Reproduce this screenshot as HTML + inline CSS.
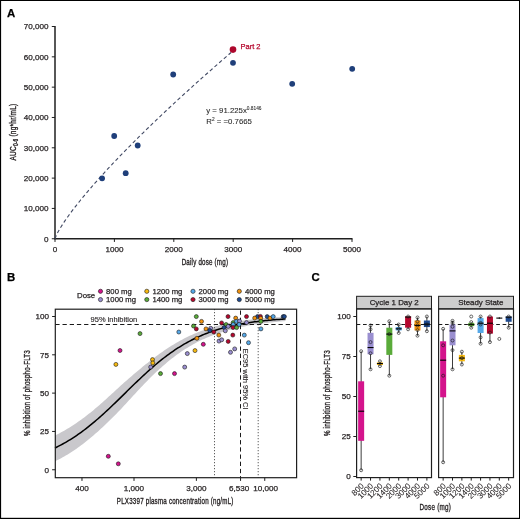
<!DOCTYPE html>
<html lang="en">
<head>
<meta charset="utf-8">
<title>Figure</title>
<style>
html,body{margin:0;padding:0;background:#fff;}
body{width:520px;height:519px;overflow:hidden;}
svg{display:block;font-family:"Liberation Sans", Arial, Helvetica, sans-serif;}
</style>
</head>
<body>
<svg width="520" height="519" viewBox="0 0 520 519">
<rect x="0" y="0" width="520" height="519" fill="#ffffff"/>
<text x="7.00" y="16.50" font-size="11.4" text-anchor="start" fill="#000" stroke="#000" stroke-width="0.25" font-weight="bold">A</text>
<text x="7.00" y="281.00" font-size="11.4" text-anchor="start" fill="#000" stroke="#000" stroke-width="0.25" font-weight="bold">B</text>
<text x="311.50" y="280.80" font-size="11.4" text-anchor="start" fill="#000" stroke="#000" stroke-width="0.25" font-weight="bold">C</text>
<line x1="55.00" y1="26.01" x2="55.00" y2="239.35" stroke="#1f1f1f" stroke-width="1.5"/>
<line x1="54.40" y1="238.75" x2="352.50" y2="238.75" stroke="#1f1f1f" stroke-width="1.5"/>
<line x1="51.80" y1="238.75" x2="55.00" y2="238.75" stroke="#1f1f1f" stroke-width="1"/>
<text x="48.40" y="241.55" font-size="8.1" text-anchor="end" fill="#231f20" stroke="#231f20" stroke-width="0.25">0</text>
<line x1="51.80" y1="208.43" x2="55.00" y2="208.43" stroke="#1f1f1f" stroke-width="1"/>
<text x="48.40" y="211.23" font-size="8.1" text-anchor="end" fill="#231f20" stroke="#231f20" stroke-width="0.25">10,000</text>
<line x1="51.80" y1="178.11" x2="55.00" y2="178.11" stroke="#1f1f1f" stroke-width="1"/>
<text x="48.40" y="180.91" font-size="8.1" text-anchor="end" fill="#231f20" stroke="#231f20" stroke-width="0.25">20,000</text>
<line x1="51.80" y1="147.79" x2="55.00" y2="147.79" stroke="#1f1f1f" stroke-width="1"/>
<text x="48.40" y="150.59" font-size="8.1" text-anchor="end" fill="#231f20" stroke="#231f20" stroke-width="0.25">30,000</text>
<line x1="51.80" y1="117.47" x2="55.00" y2="117.47" stroke="#1f1f1f" stroke-width="1"/>
<text x="48.40" y="120.27" font-size="8.1" text-anchor="end" fill="#231f20" stroke="#231f20" stroke-width="0.25">40,000</text>
<line x1="51.80" y1="87.15" x2="55.00" y2="87.15" stroke="#1f1f1f" stroke-width="1"/>
<text x="48.40" y="89.95" font-size="8.1" text-anchor="end" fill="#231f20" stroke="#231f20" stroke-width="0.25">50,000</text>
<line x1="51.80" y1="56.83" x2="55.00" y2="56.83" stroke="#1f1f1f" stroke-width="1"/>
<text x="48.40" y="59.63" font-size="8.1" text-anchor="end" fill="#231f20" stroke="#231f20" stroke-width="0.25">60,000</text>
<line x1="51.80" y1="26.51" x2="55.00" y2="26.51" stroke="#1f1f1f" stroke-width="1"/>
<text x="48.40" y="29.31" font-size="8.1" text-anchor="end" fill="#231f20" stroke="#231f20" stroke-width="0.25">70,000</text>
<line x1="55.00" y1="238.75" x2="55.00" y2="241.95" stroke="#1f1f1f" stroke-width="1"/>
<text x="55.00" y="251.65" font-size="8.1" text-anchor="middle" fill="#231f20" stroke="#231f20" stroke-width="0.25">0</text>
<line x1="114.40" y1="238.75" x2="114.40" y2="241.95" stroke="#1f1f1f" stroke-width="1"/>
<text x="114.40" y="251.65" font-size="8.1" text-anchor="middle" fill="#231f20" stroke="#231f20" stroke-width="0.25">1000</text>
<line x1="173.80" y1="238.75" x2="173.80" y2="241.95" stroke="#1f1f1f" stroke-width="1"/>
<text x="173.80" y="251.65" font-size="8.1" text-anchor="middle" fill="#231f20" stroke="#231f20" stroke-width="0.25">2000</text>
<line x1="233.20" y1="238.75" x2="233.20" y2="241.95" stroke="#1f1f1f" stroke-width="1"/>
<text x="233.20" y="251.65" font-size="8.1" text-anchor="middle" fill="#231f20" stroke="#231f20" stroke-width="0.25">3000</text>
<line x1="292.60" y1="238.75" x2="292.60" y2="241.95" stroke="#1f1f1f" stroke-width="1"/>
<text x="292.60" y="251.65" font-size="8.1" text-anchor="middle" fill="#231f20" stroke="#231f20" stroke-width="0.25">4000</text>
<line x1="352.00" y1="238.75" x2="352.00" y2="241.95" stroke="#1f1f1f" stroke-width="1"/>
<text x="352.00" y="251.65" font-size="8.1" text-anchor="middle" fill="#231f20" stroke="#231f20" stroke-width="0.25">5000</text>
<polyline points="55.00,238.75 56.48,234.94 57.97,232.05 59.45,229.43 60.94,226.97 62.42,224.63 63.91,222.36 65.39,220.17 66.88,218.04 68.36,215.95 69.85,213.91 71.34,211.90 72.82,209.93 74.31,207.99 75.79,206.07 77.28,204.18 78.76,202.32 80.25,200.47 81.73,198.65 83.22,196.84 84.70,195.06 86.19,193.28 87.67,191.53 89.16,189.79 90.64,188.06 92.12,186.35 93.61,184.64 95.09,182.96 96.58,181.28 98.06,179.61 99.55,177.95 101.03,176.31 102.52,174.67 104.00,173.05 105.49,171.43 106.97,169.82 108.46,168.22 109.94,166.63 111.43,165.05 112.91,163.47 114.40,161.90 115.88,160.34 117.37,158.78 118.85,157.24 120.34,155.70 121.83,154.16 123.31,152.63 124.80,151.11 126.28,149.60 127.77,148.09 129.25,146.58 130.74,145.08 132.22,143.59 133.70,142.10 135.19,140.62 136.68,139.14 138.16,137.67 139.64,136.20 141.13,134.74 142.62,133.28 144.10,131.82 145.58,130.37 147.07,128.93 148.56,127.49 150.04,126.05 151.53,124.62 153.01,123.19 154.50,121.77 155.98,120.35 157.47,118.93 158.95,117.52 160.44,116.11 161.92,114.70 163.41,113.30 164.89,111.90 166.38,110.51 167.86,109.12 169.34,107.73 170.83,106.34 172.31,104.96 173.80,103.59 175.28,102.21 176.77,100.84 178.25,99.47 179.74,98.11 181.22,96.74 182.71,95.38 184.19,94.03 185.68,92.67 187.16,91.32 188.65,89.97 190.13,88.63 191.62,87.29 193.10,85.95 194.59,84.61 196.07,83.28 197.56,81.94 199.04,80.61 200.53,79.29 202.01,77.96 203.50,76.64 204.99,75.32 206.47,74.01 207.96,72.69 209.44,71.38 210.93,70.07 212.41,68.76 213.90,67.46 215.38,66.15 216.87,64.85 218.35,63.55 219.84,62.26 221.32,60.96 222.81,59.67 224.29,58.38 225.78,57.09 227.26,55.81 228.75,54.52 230.23,53.24 231.72,51.96 233.20,50.69" fill="none" stroke="#414963" stroke-width="1.1" stroke-dasharray="3.6 2.6"/>
<circle cx="102.1" cy="178.3" r="2.9" fill="#1f3f7a"/>
<circle cx="114.2" cy="136" r="2.9" fill="#1f3f7a"/>
<circle cx="125.7" cy="173.2" r="2.9" fill="#1f3f7a"/>
<circle cx="137.7" cy="145.5" r="2.9" fill="#1f3f7a"/>
<circle cx="173.2" cy="74.5" r="2.9" fill="#1f3f7a"/>
<circle cx="233" cy="62.8" r="2.9" fill="#1f3f7a"/>
<circle cx="292.2" cy="83.8" r="2.9" fill="#1f3f7a"/>
<circle cx="352.2" cy="68.8" r="2.9" fill="#1f3f7a"/>
<circle cx="233" cy="49.6" r="3.3" fill="#ad072c"/>
<text x="240.50" y="49.30" font-size="7.5" text-anchor="start" fill="#b5082e" stroke="#b5082e" stroke-width="0.25">Part 2</text>
<text x="206.3" y="113" font-size="7.8" fill="#2a2a2a" stroke="#2a2a2a" stroke-width="0.08">y = 91.225x<tspan dy="-3" font-size="4.8">0.8146</tspan></text>
<text x="206.3" y="124" font-size="7.8" fill="#2a2a2a" stroke="#2a2a2a" stroke-width="0.08">R<tspan dy="-3" font-size="4.8">2</tspan><tspan dy="3"> = =0.7665</tspan></text>
<text transform="translate(15.6,132) rotate(-90) scale(0.74,1)" font-size="8.8" text-anchor="middle" fill="#231f20" stroke="#231f20" stroke-width="0.34" letter-spacing="0.3">AUC<tspan dy="2.4" font-size="6.4">0-6</tspan><tspan dy="-2.4"> (ng*hr/mL)</tspan></text>
<text transform="translate(204.90,264.70) scale(0.6909,1)" font-size="9" text-anchor="middle" fill="#231f20" stroke="#231f20" stroke-width="0.34" letter-spacing="0.3">Daily dose (mg)</text>
<polygon points="55.00,435.46 56.54,434.71 58.07,433.93 59.61,433.14 61.15,432.32 62.68,431.49 64.22,430.63 65.76,429.74 67.29,428.84 68.83,427.91 70.37,426.96 71.90,425.99 73.44,425.00 74.98,423.98 76.51,422.94 78.05,421.87 79.59,420.79 81.12,419.68 82.66,418.55 84.20,417.41 85.73,416.25 87.27,415.07 88.81,413.87 90.34,412.65 91.88,411.40 93.42,410.14 94.95,408.86 96.49,407.56 98.03,406.24 99.56,404.90 101.10,403.55 102.64,402.18 104.17,400.79 105.71,399.39 107.25,397.98 108.78,396.58 110.32,395.20 111.86,393.80 113.39,392.39 114.93,390.98 116.47,389.56 118.00,388.13 119.54,386.69 121.08,385.32 122.61,383.96 124.15,382.61 125.69,381.25 127.22,379.90 128.76,378.55 130.30,377.20 131.83,375.89 133.37,374.58 134.91,373.27 136.44,371.98 137.98,370.69 139.52,369.41 141.05,368.13 142.59,366.87 144.13,365.61 145.66,364.37 147.20,363.14 148.74,361.93 150.27,360.73 151.81,359.55 153.35,358.39 154.88,357.25 156.42,356.09 157.96,354.95 159.49,353.82 161.03,352.72 162.57,351.64 164.10,350.58 165.64,349.54 167.18,348.53 168.71,347.53 170.25,346.56 171.79,345.61 173.32,344.69 174.86,343.78 176.40,342.86 177.93,341.97 179.47,341.09 181.01,340.24 182.54,339.41 184.08,338.60 185.62,337.81 187.15,337.05 188.69,336.31 190.23,335.59 191.76,334.90 193.30,334.22 194.84,333.56 196.37,332.93 197.91,332.30 199.45,331.68 200.98,331.07 202.52,330.49 204.06,329.92 205.59,329.37 207.13,328.85 208.67,328.34 210.20,327.84 211.74,327.37 213.28,326.91 214.81,326.47 216.35,326.04 217.89,325.63 219.42,325.24 220.96,324.85 222.50,324.47 224.03,324.11 225.57,323.76 227.11,323.42 228.64,323.09 230.18,322.78 231.72,322.48 233.25,322.20 234.79,321.92 236.33,321.66 237.86,321.41 239.40,321.16 240.94,320.92 242.47,320.68 244.01,320.46 245.55,320.24 247.08,320.03 248.62,319.83 250.16,319.64 251.69,319.45 253.23,319.28 254.77,319.11 256.30,318.95 257.84,318.79 259.38,318.65 260.91,318.50 262.45,318.36 263.99,318.22 265.52,318.09 267.06,317.97 268.60,317.85 270.13,317.74 271.67,317.63 273.21,317.53 274.74,317.43 276.28,317.34 277.82,317.25 279.35,317.16 280.89,317.08 282.43,317.01 283.96,316.93 285.50,316.87 285.50,321.09 283.96,321.21 282.43,321.34 280.89,321.48 279.35,321.62 277.82,321.76 276.28,321.91 274.74,322.06 273.21,322.22 271.67,322.38 270.13,322.55 268.60,322.72 267.06,322.90 265.52,323.08 263.99,323.27 262.45,323.47 260.91,323.67 259.38,323.88 257.84,324.10 256.30,324.33 254.77,324.57 253.23,324.82 251.69,325.07 250.16,325.33 248.62,325.60 247.08,325.87 245.55,326.16 244.01,326.46 242.47,326.76 240.94,327.08 239.40,327.41 237.86,327.76 236.33,328.12 234.79,328.49 233.25,328.87 231.72,329.26 230.18,329.67 228.64,330.09 227.11,330.52 225.57,330.97 224.03,331.42 222.50,331.90 220.96,332.38 219.42,332.89 217.89,333.41 216.35,333.96 214.81,334.52 213.28,335.09 211.74,335.69 210.20,336.29 208.67,336.92 207.13,337.56 205.59,338.23 204.06,338.91 202.52,339.61 200.98,340.32 199.45,341.06 197.91,341.82 196.37,342.61 194.84,343.44 193.30,344.29 191.76,345.16 190.23,346.05 188.69,346.97 187.15,347.91 185.62,348.86 184.08,349.84 182.54,350.85 181.01,351.87 179.47,352.92 177.93,353.99 176.40,355.09 174.86,356.21 173.32,357.39 171.79,358.59 170.25,359.82 168.71,361.07 167.18,362.34 165.64,363.63 164.10,364.94 162.57,366.28 161.03,367.64 159.49,369.02 157.96,370.41 156.42,371.83 154.88,373.27 153.35,374.77 151.81,376.28 150.27,377.80 148.74,379.35 147.20,380.91 145.66,382.49 144.13,384.08 142.59,385.68 141.05,387.29 139.52,388.92 137.98,390.57 136.44,392.23 134.91,393.90 133.37,395.57 131.83,397.25 130.30,398.93 128.76,400.60 127.22,402.26 125.69,403.92 124.15,405.58 122.61,407.24 121.08,408.90 119.54,410.53 118.00,412.09 116.47,413.65 114.93,415.20 113.39,416.74 111.86,418.28 110.32,419.80 108.78,421.34 107.25,422.84 105.71,424.30 104.17,425.75 102.64,427.19 101.10,428.60 99.56,430.01 98.03,431.39 96.49,432.76 94.95,434.11 93.42,435.45 91.88,436.76 90.34,438.05 88.81,439.32 87.27,440.57 85.73,441.80 84.20,443.01 82.66,444.19 81.12,445.34 79.59,446.46 78.05,447.56 76.51,448.64 74.98,449.69 73.44,450.73 71.90,451.73 70.37,452.72 68.83,453.69 67.29,454.63 65.76,455.54 64.22,456.44 62.68,457.31 61.15,458.17 59.61,459.00 58.07,459.81 56.54,460.59 55.00,461.36" fill="#c9c8cc"/>
<line x1="55.30" y1="324.50" x2="296.60" y2="324.50" stroke="#000" stroke-width="0.9" stroke-dasharray="4.3 2.9"/>
<line x1="214.50" y1="309.20" x2="214.50" y2="477.70" stroke="#222" stroke-width="0.9" stroke-dasharray="1 2"/>
<line x1="258.20" y1="309.20" x2="258.20" y2="477.70" stroke="#222" stroke-width="0.9" stroke-dasharray="1 2"/>
<line x1="240.50" y1="309.20" x2="240.50" y2="477.70" stroke="#000" stroke-width="0.9" stroke-dasharray="4.3 2.9" stroke-dashoffset="5.9"/>
<polyline points="55.00,447.96 56.54,447.21 58.07,446.44 59.61,445.66 61.15,444.85 62.68,444.01 64.22,443.16 65.76,442.28 67.29,441.38 68.83,440.46 70.37,439.52 71.90,438.55 73.44,437.56 74.98,436.55 76.51,435.51 78.05,434.45 79.59,433.37 81.12,432.27 82.66,431.14 84.20,430.00 85.73,428.83 87.27,427.63 88.81,426.42 90.34,425.19 91.88,423.93 93.42,422.66 94.95,421.36 96.49,420.05 98.03,418.72 99.56,417.37 101.10,416.00 102.64,414.62 104.17,413.22 105.71,411.81 107.25,410.39 108.78,408.95 110.32,407.50 111.86,406.04 113.39,404.57 114.93,403.09 116.47,401.60 118.00,400.11 119.54,398.61 121.08,397.11 122.61,395.60 124.15,394.09 125.69,392.59 127.22,391.08 128.76,389.57 130.30,388.07 131.83,386.57 133.37,385.07 134.91,383.58 136.44,382.10 137.98,380.63 139.52,379.17 141.05,377.71 142.59,376.27 144.13,374.84 145.66,373.43 147.20,372.03 148.74,370.64 150.27,369.27 151.81,367.91 153.35,366.58 154.88,365.26 156.42,363.96 157.96,362.68 159.49,361.42 161.03,360.18 162.57,358.96 164.10,357.76 165.64,356.59 167.18,355.43 168.71,354.30 170.25,353.19 171.79,352.10 173.32,351.04 174.86,349.99 176.40,348.98 177.93,347.98 179.47,347.01 181.01,346.06 182.54,345.13 184.08,344.22 185.62,343.34 187.15,342.48 188.69,341.64 190.23,340.82 191.76,340.03 193.30,339.26 194.84,338.50 196.37,337.77 197.91,337.06 199.45,336.37 200.98,335.70 202.52,335.05 204.06,334.41 205.59,333.80 207.13,333.21 208.67,332.63 210.20,332.07 211.74,331.53 213.28,331.00 214.81,330.49 216.35,330.00 217.89,329.52 219.42,329.06 220.96,328.61 222.50,328.18 224.03,327.76 225.57,327.36 227.11,326.97 228.64,326.59 230.18,326.23 231.72,325.87 233.25,325.53 234.79,325.21 236.33,324.89 237.86,324.58 239.40,324.28 240.94,324.00 242.47,323.72 244.01,323.46 245.55,323.20 247.08,322.95 248.62,322.71 250.16,322.48 251.69,322.26 253.23,322.05 254.77,321.84 256.30,321.64 257.84,321.45 259.38,321.26 260.91,321.08 262.45,320.91 263.99,320.75 265.52,320.59 267.06,320.43 268.60,320.29 270.13,320.14 271.67,320.01 273.21,319.87 274.74,319.75 276.28,319.62 277.82,319.50 279.35,319.39 280.89,319.28 282.43,319.18 283.96,319.07 285.50,318.98" fill="none" stroke="#000" stroke-width="1.5"/>
<circle cx="196.3" cy="316.6" r="2.0" fill="#5aab3a" stroke="#1a1a1a" stroke-width="0.6"/>
<circle cx="201.5" cy="321.4" r="2.0" fill="#f0920f" stroke="#1a1a1a" stroke-width="0.6"/>
<circle cx="193.5" cy="326.0" r="2.0" fill="#5aab3a" stroke="#1a1a1a" stroke-width="0.6"/>
<circle cx="196.3" cy="328.9" r="2.0" fill="#b5082e" stroke="#1a1a1a" stroke-width="0.6"/>
<circle cx="206.0" cy="328.9" r="2.0" fill="#f0920f" stroke="#1a1a1a" stroke-width="0.6"/>
<circle cx="210.7" cy="328.3" r="2.0" fill="#9a8fd0" stroke="#1a1a1a" stroke-width="0.6"/>
<circle cx="209.7" cy="330.5" r="2.0" fill="#1f4a8f" stroke="#1a1a1a" stroke-width="0.6"/>
<circle cx="213.8" cy="332.0" r="2.0" fill="#b5082e" stroke="#1a1a1a" stroke-width="0.6"/>
<circle cx="196.9" cy="338.3" r="2.0" fill="#f0920f" stroke="#1a1a1a" stroke-width="0.6"/>
<circle cx="203.3" cy="344.3" r="2.0" fill="#d4148c" stroke="#1a1a1a" stroke-width="0.6"/>
<circle cx="195.0" cy="350.6" r="2.0" fill="#f6b90f" stroke="#1a1a1a" stroke-width="0.6"/>
<circle cx="187.3" cy="353.6" r="2.0" fill="#9a8fd0" stroke="#1a1a1a" stroke-width="0.6"/>
<circle cx="184.7" cy="367.1" r="2.0" fill="#9a8fd0" stroke="#1a1a1a" stroke-width="0.6"/>
<circle cx="178.8" cy="332.0" r="2.0" fill="#55a8e8" stroke="#1a1a1a" stroke-width="0.6"/>
<circle cx="228" cy="316.6" r="2.0" fill="#b5082e" stroke="#1a1a1a" stroke-width="0.6"/>
<circle cx="235.7" cy="318.1" r="2.0" fill="#f0920f" stroke="#1a1a1a" stroke-width="0.6"/>
<circle cx="221.6" cy="322.9" r="2.0" fill="#b5082e" stroke="#1a1a1a" stroke-width="0.6"/>
<circle cx="226.1" cy="324.5" r="2.0" fill="#5aab3a" stroke="#1a1a1a" stroke-width="0.6"/>
<circle cx="224.1" cy="327.6" r="2.0" fill="#1f4a8f" stroke="#1a1a1a" stroke-width="0.6"/>
<circle cx="228.2" cy="326.4" r="2.0" fill="#9a8fd0" stroke="#1a1a1a" stroke-width="0.6"/>
<circle cx="225.3" cy="330.8" r="2.0" fill="#9a8fd0" stroke="#1a1a1a" stroke-width="0.6"/>
<circle cx="233.2" cy="322.6" r="2.0" fill="#5aab3a" stroke="#1a1a1a" stroke-width="0.6"/>
<circle cx="233.2" cy="324.5" r="2.0" fill="#55a8e8" stroke="#1a1a1a" stroke-width="0.6"/>
<circle cx="236.4" cy="321.4" r="2.0" fill="#55a8e8" stroke="#1a1a1a" stroke-width="0.6"/>
<circle cx="239.5" cy="321.1" r="2.0" fill="#9a8fd0" stroke="#1a1a1a" stroke-width="0.6"/>
<circle cx="239.1" cy="324.5" r="2.0" fill="#55a8e8" stroke="#1a1a1a" stroke-width="0.6"/>
<circle cx="233" cy="327.6" r="2.0" fill="#b5082e" stroke="#1a1a1a" stroke-width="0.6"/>
<circle cx="236.6" cy="327.6" r="2.0" fill="#5aab3a" stroke="#1a1a1a" stroke-width="0.6"/>
<circle cx="218.8" cy="335.1" r="2.0" fill="#f0920f" stroke="#1a1a1a" stroke-width="0.6"/>
<circle cx="232.8" cy="335.1" r="2.0" fill="#b5082e" stroke="#1a1a1a" stroke-width="0.6"/>
<circle cx="244.3" cy="335.1" r="2.0" fill="#55a8e8" stroke="#1a1a1a" stroke-width="0.6"/>
<circle cx="219" cy="341.1" r="2.0" fill="#9a8fd0" stroke="#1a1a1a" stroke-width="0.6"/>
<circle cx="221.7" cy="339.8" r="2.0" fill="#9a8fd0" stroke="#1a1a1a" stroke-width="0.6"/>
<circle cx="228.2" cy="341.4" r="2.0" fill="#b5082e" stroke="#1a1a1a" stroke-width="0.6"/>
<circle cx="230.5" cy="352.3" r="2.0" fill="#9a8fd0" stroke="#1a1a1a" stroke-width="0.6"/>
<circle cx="234.7" cy="348.9" r="2.0" fill="#9a8fd0" stroke="#1a1a1a" stroke-width="0.6"/>
<circle cx="246.5" cy="316.6" r="2.0" fill="#b5082e" stroke="#1a1a1a" stroke-width="0.6"/>
<circle cx="246.5" cy="322.6" r="2.0" fill="#9a8fd0" stroke="#1a1a1a" stroke-width="0.6"/>
<circle cx="248.5" cy="342.7" r="2.0" fill="#55a8e8" stroke="#1a1a1a" stroke-width="0.6"/>
<circle cx="257.5" cy="316.6" r="2.0" fill="#1f4a8f" stroke="#1a1a1a" stroke-width="0.6"/>
<circle cx="260.4" cy="316.4" r="2.0" fill="#b5082e" stroke="#1a1a1a" stroke-width="0.6"/>
<circle cx="254.7" cy="318.1" r="2.0" fill="#f0920f" stroke="#1a1a1a" stroke-width="0.6"/>
<circle cx="260.7" cy="318.3" r="2.0" fill="#f0920f" stroke="#1a1a1a" stroke-width="0.6"/>
<circle cx="260.9" cy="321.4" r="2.0" fill="#5aab3a" stroke="#1a1a1a" stroke-width="0.6"/>
<circle cx="267.2" cy="316.6" r="2.0" fill="#1f4a8f" stroke="#1a1a1a" stroke-width="0.6"/>
<circle cx="270" cy="318.1" r="2.0" fill="#f0920f" stroke="#1a1a1a" stroke-width="0.6"/>
<circle cx="273.2" cy="316.6" r="2.0" fill="#55a8e8" stroke="#1a1a1a" stroke-width="0.6"/>
<circle cx="283.2" cy="316.6" r="2.0" fill="#1f4a8f" stroke="#1a1a1a" stroke-width="0.6"/>
<circle cx="284.4" cy="316.6" r="2.0" fill="#1f4a8f" stroke="#1a1a1a" stroke-width="0.6"/>
<circle cx="260.9" cy="328.9" r="2.0" fill="#55a8e8" stroke="#1a1a1a" stroke-width="0.6"/>
<circle cx="140" cy="333.6" r="2.0" fill="#5aab3a" stroke="#1a1a1a" stroke-width="0.6"/>
<circle cx="152.5" cy="359.6" r="2.0" fill="#f6b90f" stroke="#1a1a1a" stroke-width="0.6"/>
<circle cx="152.8" cy="362.9" r="2.0" fill="#f6b90f" stroke="#1a1a1a" stroke-width="0.6"/>
<circle cx="150.7" cy="367.1" r="2.0" fill="#9a8fd0" stroke="#1a1a1a" stroke-width="0.6"/>
<circle cx="120" cy="350.5" r="2.0" fill="#d4148c" stroke="#1a1a1a" stroke-width="0.6"/>
<circle cx="115.9" cy="364.4" r="2.0" fill="#f6b90f" stroke="#1a1a1a" stroke-width="0.6"/>
<circle cx="160.5" cy="373.6" r="2.0" fill="#5aab3a" stroke="#1a1a1a" stroke-width="0.6"/>
<circle cx="174.5" cy="373.6" r="2.0" fill="#d4148c" stroke="#1a1a1a" stroke-width="0.6"/>
<circle cx="108.3" cy="456.3" r="2.0" fill="#d4148c" stroke="#1a1a1a" stroke-width="0.6"/>
<circle cx="118.3" cy="463.8" r="2.0" fill="#d4148c" stroke="#1a1a1a" stroke-width="0.6"/>
<rect x="55.3" y="309.2" width="241.3" height="168.5" fill="none" stroke="#1f1f1f" stroke-width="1.2"/>
<line x1="52.10" y1="469.75" x2="55.30" y2="469.75" stroke="#1f1f1f" stroke-width="1"/>
<text x="48.90" y="472.55" font-size="8.1" text-anchor="end" fill="#231f20" stroke="#231f20" stroke-width="0.25">0</text>
<line x1="52.10" y1="431.44" x2="55.30" y2="431.44" stroke="#1f1f1f" stroke-width="1"/>
<text x="48.90" y="434.24" font-size="8.1" text-anchor="end" fill="#231f20" stroke="#231f20" stroke-width="0.25">25</text>
<line x1="52.10" y1="393.12" x2="55.30" y2="393.12" stroke="#1f1f1f" stroke-width="1"/>
<text x="48.90" y="395.93" font-size="8.1" text-anchor="end" fill="#231f20" stroke="#231f20" stroke-width="0.25">50</text>
<line x1="52.10" y1="354.81" x2="55.30" y2="354.81" stroke="#1f1f1f" stroke-width="1"/>
<text x="48.90" y="357.61" font-size="8.1" text-anchor="end" fill="#231f20" stroke="#231f20" stroke-width="0.25">75</text>
<line x1="52.10" y1="316.50" x2="55.30" y2="316.50" stroke="#1f1f1f" stroke-width="1"/>
<text x="48.90" y="319.30" font-size="8.1" text-anchor="end" fill="#231f20" stroke="#231f20" stroke-width="0.25">100</text>
<line x1="81.97" y1="477.70" x2="81.97" y2="480.90" stroke="#1f1f1f" stroke-width="1"/>
<text x="81.97" y="490.50" font-size="8.1" text-anchor="middle" fill="#231f20" stroke="#231f20" stroke-width="0.25">400</text>
<line x1="134.00" y1="477.70" x2="134.00" y2="480.90" stroke="#1f1f1f" stroke-width="1"/>
<text x="134.00" y="490.50" font-size="8.1" text-anchor="middle" fill="#231f20" stroke="#231f20" stroke-width="0.25">1,000</text>
<line x1="196.38" y1="477.70" x2="196.38" y2="480.90" stroke="#1f1f1f" stroke-width="1"/>
<text x="196.38" y="490.50" font-size="8.1" text-anchor="middle" fill="#231f20" stroke="#231f20" stroke-width="0.25">3,000</text>
<line x1="240.55" y1="477.70" x2="240.55" y2="480.90" stroke="#1f1f1f" stroke-width="1"/>
<text x="239.05" y="490.50" font-size="8.1" text-anchor="middle" fill="#231f20" stroke="#231f20" stroke-width="0.25">6,530</text>
<line x1="264.75" y1="477.70" x2="264.75" y2="480.90" stroke="#1f1f1f" stroke-width="1"/>
<text x="265.75" y="490.50" font-size="8.1" text-anchor="middle" fill="#231f20" stroke="#231f20" stroke-width="0.25">10,000</text>
<text x="90.60" y="322.40" font-size="7.5" text-anchor="start" fill="#231f20" stroke="#231f20" stroke-width="0.12">95% inhibition</text>
<text transform="translate(242.60,348.70) rotate(90)" font-size="7.5" text-anchor="start" fill="#231f20" stroke="#231f20" stroke-width="0.1">EC95 with 95% CI</text>
<text transform="translate(30.20,393.00) rotate(-90) scale(0.6909,1)" font-size="9" text-anchor="middle" fill="#231f20" stroke="#231f20" stroke-width="0.34" letter-spacing="0.3">% inhibition of phospho-FLT3</text>
<text transform="translate(175.20,504.30) scale(0.6909,1)" font-size="9" text-anchor="middle" fill="#231f20" stroke="#231f20" stroke-width="0.34" letter-spacing="0.3">PLX3397 plasma concentration (ng/mL)</text>
<text x="77.00" y="298.00" font-size="7.8" text-anchor="start" fill="#231f20" stroke="#231f20" stroke-width="0.25">Dose</text>
<circle cx="100.5" cy="291.3" r="2.1" fill="#d4148c" stroke="#1a1a1a" stroke-width="0.6"/>
<circle cx="100.5" cy="299.6" r="2.1" fill="#9a8fd0" stroke="#1a1a1a" stroke-width="0.6"/>
<text x="106.10" y="294.10" font-size="7.7" text-anchor="start" fill="#231f20" stroke="#231f20" stroke-width="0.25">800 mg</text>
<text x="106.10" y="302.40" font-size="7.7" text-anchor="start" fill="#231f20" stroke="#231f20" stroke-width="0.25">1000 mg</text>
<circle cx="146.8" cy="291.3" r="2.1" fill="#f6b90f" stroke="#1a1a1a" stroke-width="0.6"/>
<circle cx="146.8" cy="299.6" r="2.1" fill="#5aab3a" stroke="#1a1a1a" stroke-width="0.6"/>
<text x="152.40" y="294.10" font-size="7.7" text-anchor="start" fill="#231f20" stroke="#231f20" stroke-width="0.25">1200 mg</text>
<text x="152.40" y="302.40" font-size="7.7" text-anchor="start" fill="#231f20" stroke="#231f20" stroke-width="0.25">1400 mg</text>
<circle cx="193" cy="291.3" r="2.1" fill="#55a8e8" stroke="#1a1a1a" stroke-width="0.6"/>
<circle cx="193" cy="299.6" r="2.1" fill="#b5082e" stroke="#1a1a1a" stroke-width="0.6"/>
<text x="198.60" y="294.10" font-size="7.7" text-anchor="start" fill="#231f20" stroke="#231f20" stroke-width="0.25">2000 mg</text>
<text x="198.60" y="302.40" font-size="7.7" text-anchor="start" fill="#231f20" stroke="#231f20" stroke-width="0.25">3000 mg</text>
<circle cx="239.3" cy="291.3" r="2.1" fill="#f0920f" stroke="#1a1a1a" stroke-width="0.6"/>
<circle cx="239.3" cy="299.6" r="2.1" fill="#1f4a8f" stroke="#1a1a1a" stroke-width="0.6"/>
<text x="244.90" y="294.10" font-size="7.7" text-anchor="start" fill="#231f20" stroke="#231f20" stroke-width="0.25">4000 mg</text>
<text x="244.90" y="302.40" font-size="7.7" text-anchor="start" fill="#231f20" stroke="#231f20" stroke-width="0.25">5000 mg</text>
<rect x="356.6" y="296.3" width="74.89999999999998" height="12.599999999999966" fill="#cdcdcd" stroke="#1f1f1f" stroke-width="1"/>
<text x="394.20" y="305.30" font-size="7.9" text-anchor="middle" fill="#231f20" stroke="#231f20" stroke-width="0.25">Cycle 1 Day 2</text>
<line x1="356.60" y1="324.50" x2="431.50" y2="324.50" stroke="#000" stroke-width="0.9" stroke-dasharray="3.7 2.7"/>
<line x1="361.15" y1="351.22" x2="361.15" y2="470.26" stroke="#1a1a1a" stroke-width="0.85"/>
<rect x="358.15" y="381.30" width="6" height="59.52" fill="#d4148c"/>
<line x1="358.15" y1="411.22" x2="364.15" y2="411.22" stroke="#000" stroke-width="1.1"/>
<circle cx="361.15" cy="470.26" r="1.5" fill="none" stroke="#1a1a1a" stroke-width="0.65"/>
<circle cx="361.15" cy="351.22" r="1.5" fill="none" stroke="#1a1a1a" stroke-width="0.65"/>
<line x1="370.54" y1="325.46" x2="370.54" y2="369.30" stroke="#1a1a1a" stroke-width="0.85"/>
<rect x="367.54" y="332.82" width="6" height="21.44" fill="#9a8fd0"/>
<line x1="367.54" y1="347.54" x2="373.54" y2="347.54" stroke="#000" stroke-width="1.1"/>
<circle cx="370.54" cy="369.30" r="1.5" fill="none" stroke="#1a1a1a" stroke-width="0.65"/>
<circle cx="370.54" cy="353.30" r="1.5" fill="none" stroke="#1a1a1a" stroke-width="0.65"/>
<circle cx="370.54" cy="342.10" r="1.5" fill="none" stroke="#1a1a1a" stroke-width="0.65"/>
<circle cx="370.54" cy="329.30" r="1.5" fill="none" stroke="#1a1a1a" stroke-width="0.65"/>
<circle cx="370.54" cy="325.46" r="1.5" fill="none" stroke="#1a1a1a" stroke-width="0.65"/>
<line x1="379.93" y1="361.30" x2="379.93" y2="366.10" stroke="#1a1a1a" stroke-width="0.85"/>
<rect x="376.93" y="362.42" width="6" height="2.56" fill="#f6b90f"/>
<line x1="376.93" y1="363.54" x2="382.93" y2="363.54" stroke="#000" stroke-width="1.1"/>
<circle cx="379.93" cy="366.10" r="1.5" fill="none" stroke="#1a1a1a" stroke-width="0.65"/>
<circle cx="379.93" cy="361.30" r="1.5" fill="none" stroke="#1a1a1a" stroke-width="0.65"/>
<line x1="389.32" y1="321.30" x2="389.32" y2="375.70" stroke="#1a1a1a" stroke-width="0.85"/>
<rect x="386.32" y="327.70" width="6" height="27.20" fill="#5aab3a"/>
<line x1="386.32" y1="334.10" x2="392.32" y2="334.10" stroke="#000" stroke-width="1.1"/>
<circle cx="389.32" cy="375.70" r="1.5" fill="none" stroke="#1a1a1a" stroke-width="0.65"/>
<circle cx="389.32" cy="334.10" r="1.5" fill="none" stroke="#1a1a1a" stroke-width="0.65"/>
<circle cx="389.32" cy="321.30" r="1.5" fill="none" stroke="#1a1a1a" stroke-width="0.65"/>
<line x1="398.71" y1="324.50" x2="398.71" y2="332.98" stroke="#1a1a1a" stroke-width="0.85"/>
<rect x="395.71" y="327.06" width="6" height="3.36" fill="#55a8e8"/>
<line x1="395.71" y1="328.82" x2="401.71" y2="328.82" stroke="#000" stroke-width="1.1"/>
<circle cx="398.71" cy="332.98" r="1.5" fill="none" stroke="#1a1a1a" stroke-width="0.65"/>
<circle cx="398.71" cy="328.82" r="1.5" fill="none" stroke="#1a1a1a" stroke-width="0.65"/>
<circle cx="398.71" cy="324.50" r="1.5" fill="none" stroke="#1a1a1a" stroke-width="0.65"/>
<line x1="408.10" y1="316.50" x2="408.10" y2="329.30" stroke="#1a1a1a" stroke-width="0.85"/>
<rect x="405.10" y="316.50" width="6" height="11.20" fill="#b5082e"/>
<line x1="405.10" y1="316.98" x2="411.10" y2="316.98" stroke="#000" stroke-width="1.1"/>
<circle cx="408.10" cy="329.30" r="1.5" fill="none" stroke="#1a1a1a" stroke-width="0.65"/>
<circle cx="408.10" cy="316.50" r="1.5" fill="none" stroke="#1a1a1a" stroke-width="0.65"/>
<line x1="417.49" y1="317.46" x2="417.49" y2="335.70" stroke="#1a1a1a" stroke-width="0.85"/>
<rect x="414.49" y="320.50" width="6" height="9.92" fill="#f0920f"/>
<line x1="414.49" y1="325.46" x2="420.49" y2="325.46" stroke="#000" stroke-width="1.1"/>
<circle cx="417.49" cy="335.70" r="1.5" fill="none" stroke="#1a1a1a" stroke-width="0.65"/>
<circle cx="417.49" cy="330.10" r="1.5" fill="none" stroke="#1a1a1a" stroke-width="0.65"/>
<circle cx="417.49" cy="325.46" r="1.5" fill="none" stroke="#1a1a1a" stroke-width="0.65"/>
<circle cx="417.49" cy="321.30" r="1.5" fill="none" stroke="#1a1a1a" stroke-width="0.65"/>
<circle cx="417.49" cy="317.46" r="1.5" fill="none" stroke="#1a1a1a" stroke-width="0.65"/>
<line x1="426.88" y1="316.50" x2="426.88" y2="331.22" stroke="#1a1a1a" stroke-width="0.85"/>
<rect x="423.88" y="320.50" width="6" height="6.56" fill="#1f4a8f"/>
<line x1="423.88" y1="324.18" x2="429.88" y2="324.18" stroke="#000" stroke-width="1.1"/>
<circle cx="426.88" cy="331.22" r="1.5" fill="none" stroke="#1a1a1a" stroke-width="0.65"/>
<circle cx="426.88" cy="324.50" r="1.5" fill="none" stroke="#1a1a1a" stroke-width="0.65"/>
<circle cx="426.88" cy="316.50" r="1.5" fill="none" stroke="#1a1a1a" stroke-width="0.65"/>
<rect x="356.6" y="308.9" width="74.89999999999998" height="168.70000000000005" fill="none" stroke="#1f1f1f" stroke-width="1.2"/>
<line x1="361.15" y1="477.60" x2="361.15" y2="480.60" stroke="#1f1f1f" stroke-width="1"/>
<text transform="translate(364.35,486.60) rotate(-45)" font-size="8.1" text-anchor="end" fill="#231f20" stroke="#231f20" stroke-width="0.06">800</text>
<line x1="370.54" y1="477.60" x2="370.54" y2="480.60" stroke="#1f1f1f" stroke-width="1"/>
<text transform="translate(373.74,486.60) rotate(-45)" font-size="8.1" text-anchor="end" fill="#231f20" stroke="#231f20" stroke-width="0.06">1000</text>
<line x1="379.93" y1="477.60" x2="379.93" y2="480.60" stroke="#1f1f1f" stroke-width="1"/>
<text transform="translate(383.13,486.60) rotate(-45)" font-size="8.1" text-anchor="end" fill="#231f20" stroke="#231f20" stroke-width="0.06">1200</text>
<line x1="389.32" y1="477.60" x2="389.32" y2="480.60" stroke="#1f1f1f" stroke-width="1"/>
<text transform="translate(392.52,486.60) rotate(-45)" font-size="8.1" text-anchor="end" fill="#231f20" stroke="#231f20" stroke-width="0.06">1400</text>
<line x1="398.71" y1="477.60" x2="398.71" y2="480.60" stroke="#1f1f1f" stroke-width="1"/>
<text transform="translate(401.91,486.60) rotate(-45)" font-size="8.1" text-anchor="end" fill="#231f20" stroke="#231f20" stroke-width="0.06">2000</text>
<line x1="408.10" y1="477.60" x2="408.10" y2="480.60" stroke="#1f1f1f" stroke-width="1"/>
<text transform="translate(411.30,486.60) rotate(-45)" font-size="8.1" text-anchor="end" fill="#231f20" stroke="#231f20" stroke-width="0.06">3000</text>
<line x1="417.49" y1="477.60" x2="417.49" y2="480.60" stroke="#1f1f1f" stroke-width="1"/>
<text transform="translate(420.69,486.60) rotate(-45)" font-size="8.1" text-anchor="end" fill="#231f20" stroke="#231f20" stroke-width="0.06">4000</text>
<line x1="426.88" y1="477.60" x2="426.88" y2="480.60" stroke="#1f1f1f" stroke-width="1"/>
<text transform="translate(430.08,486.60) rotate(-45)" font-size="8.1" text-anchor="end" fill="#231f20" stroke="#231f20" stroke-width="0.06">5000</text>
<rect x="438.6" y="296.3" width="74.89999999999998" height="12.599999999999966" fill="#cdcdcd" stroke="#1f1f1f" stroke-width="1"/>
<text x="480.80" y="305.30" font-size="7.9" text-anchor="middle" fill="#231f20" stroke="#231f20" stroke-width="0.25">Steady State</text>
<line x1="438.60" y1="324.50" x2="513.50" y2="324.50" stroke="#000" stroke-width="0.9" stroke-dasharray="3.7 2.7"/>
<line x1="443.15" y1="328.82" x2="443.15" y2="462.26" stroke="#1a1a1a" stroke-width="0.85"/>
<rect x="440.15" y="341.30" width="6" height="56.00" fill="#d4148c"/>
<line x1="440.15" y1="360.18" x2="446.15" y2="360.18" stroke="#000" stroke-width="1.1"/>
<circle cx="443.15" cy="462.26" r="1.5" fill="none" stroke="#1a1a1a" stroke-width="0.65"/>
<circle cx="443.15" cy="375.70" r="1.5" fill="none" stroke="#1a1a1a" stroke-width="0.65"/>
<circle cx="443.15" cy="345.30" r="1.5" fill="none" stroke="#1a1a1a" stroke-width="0.65"/>
<circle cx="443.15" cy="328.82" r="1.5" fill="none" stroke="#1a1a1a" stroke-width="0.65"/>
<line x1="452.51" y1="320.82" x2="452.51" y2="369.30" stroke="#1a1a1a" stroke-width="0.85"/>
<rect x="449.51" y="324.50" width="6" height="20.80" fill="#9a8fd0"/>
<line x1="449.51" y1="330.90" x2="455.51" y2="330.90" stroke="#000" stroke-width="1.1"/>
<circle cx="452.51" cy="369.30" r="1.5" fill="none" stroke="#1a1a1a" stroke-width="0.65"/>
<circle cx="452.51" cy="350.10" r="1.5" fill="none" stroke="#1a1a1a" stroke-width="0.65"/>
<circle cx="452.51" cy="340.50" r="1.5" fill="none" stroke="#1a1a1a" stroke-width="0.65"/>
<circle cx="452.51" cy="326.74" r="1.5" fill="none" stroke="#1a1a1a" stroke-width="0.65"/>
<circle cx="452.51" cy="322.90" r="1.5" fill="none" stroke="#1a1a1a" stroke-width="0.65"/>
<circle cx="452.51" cy="320.82" r="1.5" fill="none" stroke="#1a1a1a" stroke-width="0.65"/>
<line x1="461.87" y1="351.70" x2="461.87" y2="364.50" stroke="#1a1a1a" stroke-width="0.85"/>
<rect x="458.87" y="354.90" width="6" height="6.40" fill="#f6b90f"/>
<line x1="458.87" y1="358.10" x2="464.87" y2="358.10" stroke="#000" stroke-width="1.1"/>
<circle cx="461.87" cy="364.50" r="1.5" fill="none" stroke="#1a1a1a" stroke-width="0.65"/>
<circle cx="461.87" cy="358.10" r="1.5" fill="none" stroke="#1a1a1a" stroke-width="0.65"/>
<circle cx="461.87" cy="351.70" r="1.5" fill="none" stroke="#1a1a1a" stroke-width="0.65"/>
<line x1="471.23" y1="322.10" x2="471.23" y2="327.70" stroke="#1a1a1a" stroke-width="0.85"/>
<rect x="468.23" y="322.90" width="6" height="3.20" fill="#5aab3a"/>
<line x1="468.23" y1="324.66" x2="474.23" y2="324.66" stroke="#000" stroke-width="1.1"/>
<circle cx="471.23" cy="327.70" r="1.5" fill="none" stroke="#1a1a1a" stroke-width="0.65"/>
<circle cx="471.23" cy="322.10" r="1.5" fill="none" stroke="#1a1a1a" stroke-width="0.65"/>
<circle cx="471.23" cy="316.50" r="1.5" fill="none" stroke="#1a1a1a" stroke-width="0.65"/>
<line x1="480.59" y1="316.50" x2="480.59" y2="343.70" stroke="#1a1a1a" stroke-width="0.85"/>
<rect x="477.59" y="318.10" width="6" height="14.88" fill="#55a8e8"/>
<line x1="477.59" y1="323.22" x2="483.59" y2="323.22" stroke="#000" stroke-width="1.1"/>
<circle cx="480.59" cy="343.70" r="1.5" fill="none" stroke="#1a1a1a" stroke-width="0.65"/>
<circle cx="480.59" cy="337.30" r="1.5" fill="none" stroke="#1a1a1a" stroke-width="0.65"/>
<circle cx="480.59" cy="324.50" r="1.5" fill="none" stroke="#1a1a1a" stroke-width="0.65"/>
<circle cx="480.59" cy="322.90" r="1.5" fill="none" stroke="#1a1a1a" stroke-width="0.65"/>
<circle cx="480.59" cy="316.50" r="1.5" fill="none" stroke="#1a1a1a" stroke-width="0.65"/>
<line x1="489.95" y1="316.50" x2="489.95" y2="342.10" stroke="#1a1a1a" stroke-width="0.85"/>
<rect x="486.95" y="316.50" width="6" height="17.12" fill="#b5082e"/>
<line x1="486.95" y1="323.22" x2="492.95" y2="323.22" stroke="#000" stroke-width="1.1"/>
<circle cx="489.95" cy="342.10" r="1.5" fill="none" stroke="#1a1a1a" stroke-width="0.65"/>
<circle cx="489.95" cy="332.50" r="1.5" fill="none" stroke="#1a1a1a" stroke-width="0.65"/>
<circle cx="489.95" cy="316.50" r="1.5" fill="none" stroke="#1a1a1a" stroke-width="0.65"/>
<line x1="499.31" y1="317.14" x2="499.31" y2="319.06" stroke="#1a1a1a" stroke-width="0.85"/>
<rect x="496.31" y="318.10" width="6" height="0.00" fill="#f0920f"/>
<line x1="496.31" y1="318.10" x2="502.31" y2="318.10" stroke="#000" stroke-width="1.1"/>
<circle cx="499.31" cy="338.90" r="1.5" fill="none" stroke="#1a1a1a" stroke-width="0.65"/>
<line x1="508.67" y1="316.50" x2="508.67" y2="327.70" stroke="#1a1a1a" stroke-width="0.85"/>
<rect x="505.67" y="316.50" width="6" height="5.28" fill="#1f4a8f"/>
<line x1="505.67" y1="317.14" x2="511.67" y2="317.14" stroke="#000" stroke-width="1.1"/>
<circle cx="508.67" cy="327.70" r="1.5" fill="none" stroke="#1a1a1a" stroke-width="0.65"/>
<circle cx="508.67" cy="316.50" r="1.5" fill="none" stroke="#1a1a1a" stroke-width="0.65"/>
<rect x="438.6" y="308.9" width="74.89999999999998" height="168.70000000000005" fill="none" stroke="#1f1f1f" stroke-width="1.2"/>
<line x1="443.15" y1="477.60" x2="443.15" y2="480.60" stroke="#1f1f1f" stroke-width="1"/>
<text transform="translate(446.35,486.60) rotate(-45)" font-size="8.1" text-anchor="end" fill="#231f20" stroke="#231f20" stroke-width="0.06">800</text>
<line x1="452.51" y1="477.60" x2="452.51" y2="480.60" stroke="#1f1f1f" stroke-width="1"/>
<text transform="translate(455.71,486.60) rotate(-45)" font-size="8.1" text-anchor="end" fill="#231f20" stroke="#231f20" stroke-width="0.06">1000</text>
<line x1="461.87" y1="477.60" x2="461.87" y2="480.60" stroke="#1f1f1f" stroke-width="1"/>
<text transform="translate(465.07,486.60) rotate(-45)" font-size="8.1" text-anchor="end" fill="#231f20" stroke="#231f20" stroke-width="0.06">1200</text>
<line x1="471.23" y1="477.60" x2="471.23" y2="480.60" stroke="#1f1f1f" stroke-width="1"/>
<text transform="translate(474.43,486.60) rotate(-45)" font-size="8.1" text-anchor="end" fill="#231f20" stroke="#231f20" stroke-width="0.06">1400</text>
<line x1="480.59" y1="477.60" x2="480.59" y2="480.60" stroke="#1f1f1f" stroke-width="1"/>
<text transform="translate(483.79,486.60) rotate(-45)" font-size="8.1" text-anchor="end" fill="#231f20" stroke="#231f20" stroke-width="0.06">2000</text>
<line x1="489.95" y1="477.60" x2="489.95" y2="480.60" stroke="#1f1f1f" stroke-width="1"/>
<text transform="translate(493.15,486.60) rotate(-45)" font-size="8.1" text-anchor="end" fill="#231f20" stroke="#231f20" stroke-width="0.06">3000</text>
<line x1="499.31" y1="477.60" x2="499.31" y2="480.60" stroke="#1f1f1f" stroke-width="1"/>
<text transform="translate(502.51,486.60) rotate(-45)" font-size="8.1" text-anchor="end" fill="#231f20" stroke="#231f20" stroke-width="0.06">4000</text>
<line x1="508.67" y1="477.60" x2="508.67" y2="480.60" stroke="#1f1f1f" stroke-width="1"/>
<text transform="translate(511.87,486.60) rotate(-45)" font-size="8.1" text-anchor="end" fill="#231f20" stroke="#231f20" stroke-width="0.06">5000</text>
<line x1="353.30" y1="476.50" x2="356.50" y2="476.50" stroke="#1f1f1f" stroke-width="1"/>
<text x="350.80" y="479.40" font-size="8.1" text-anchor="end" fill="#231f20" stroke="#231f20" stroke-width="0.25">0</text>
<line x1="353.30" y1="436.50" x2="356.50" y2="436.50" stroke="#1f1f1f" stroke-width="1"/>
<text x="350.80" y="439.40" font-size="8.1" text-anchor="end" fill="#231f20" stroke="#231f20" stroke-width="0.25">25</text>
<line x1="353.30" y1="396.50" x2="356.50" y2="396.50" stroke="#1f1f1f" stroke-width="1"/>
<text x="350.80" y="399.40" font-size="8.1" text-anchor="end" fill="#231f20" stroke="#231f20" stroke-width="0.25">50</text>
<line x1="353.30" y1="356.50" x2="356.50" y2="356.50" stroke="#1f1f1f" stroke-width="1"/>
<text x="350.80" y="359.40" font-size="8.1" text-anchor="end" fill="#231f20" stroke="#231f20" stroke-width="0.25">75</text>
<line x1="353.30" y1="316.50" x2="356.50" y2="316.50" stroke="#1f1f1f" stroke-width="1"/>
<text x="350.80" y="319.40" font-size="8.1" text-anchor="end" fill="#231f20" stroke="#231f20" stroke-width="0.25">100</text>
<text transform="translate(329.80,393.00) rotate(-90) scale(0.6909,1)" font-size="9" text-anchor="middle" fill="#231f20" stroke="#231f20" stroke-width="0.34" letter-spacing="0.3">% inhibition of phospho-FLT3</text>
<text transform="translate(435.30,509.80) scale(0.705,1)" font-size="9" text-anchor="middle" fill="#231f20" stroke="#231f20" stroke-width="0.34" letter-spacing="0.3">Dose (mg)</text>
<rect x="0" y="0" width="520" height="1" fill="#000"/>
<rect x="0" y="0" width="1.1" height="519" fill="#000"/>
<rect x="519" y="0" width="1" height="519" fill="#000"/>
<rect x="0" y="517.8" width="520" height="1.2" fill="#000"/>
</svg>
</body>
</html>
